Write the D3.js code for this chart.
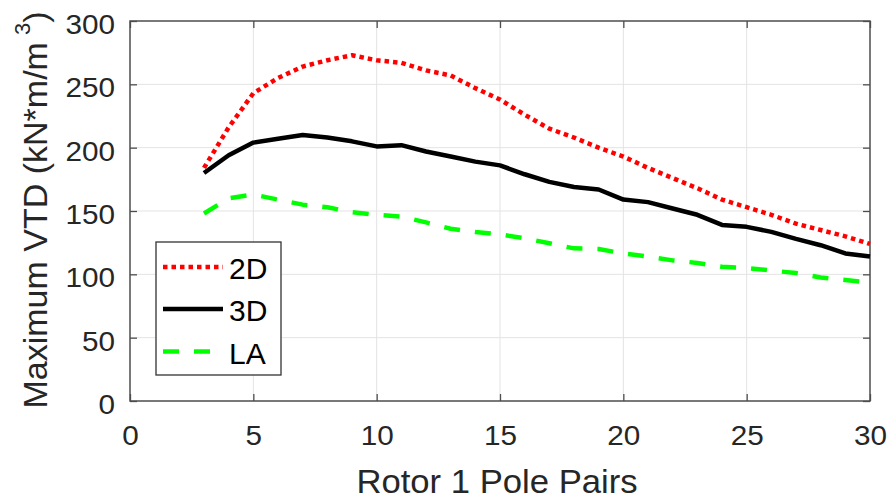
<!DOCTYPE html>
<html>
<head>
<meta charset="utf-8">
<script src="https://cdn.jsdelivr.net/npm/d3@7"></script>
<style>
  html, body { margin: 0; padding: 0; background: #fff; }
  svg { display: block; font-family: "Liberation Sans", Arial, Helvetica, sans-serif; }
</style>
</head>
<body>
<svg id="chart" width="891" height="501"></svg>
<script>
// Rotor 1 pole pairs (x) and maximum VTD in kN*m/m^3 for each model
const polePairs = [3, 4, 5, 6, 7, 8, 9, 10, 11, 12, 13, 14, 15, 16, 17, 18, 19, 20, 21, 22, 23, 24, 25, 26, 27, 28, 29, 30];
const vtd2D = [184, 216, 243, 255, 264, 269, 273, 269, 267, 261, 257, 247, 238, 226, 215, 208, 200, 193, 184, 176, 168, 159, 153, 147, 140, 135, 130, 124];
const vtd3D = [180, 194, 204, 207, 210, 208, 205, 201, 202, 197, 193, 189, 186, 179, 173, 169, 167, 159, 157, 152, 147, 139, 137.5, 133.5, 128, 123, 116.5, 114];
const vtdLA = [148, 160, 163, 159, 155, 153, 149, 147, 145.5, 141, 136, 133.5, 131.5, 128.5, 124.5, 120.5, 120, 116.5, 114, 111, 109, 106, 105, 103, 101, 97.5, 95.5, 93.5];

const xTicks = [0, 5, 10, 15, 20, 25, 30];
const yTicks = [0, 50, 100, 150, 200, 250, 300];
const seriesNames = ["2D", "3D", "LA"];

const svg = d3.select("#chart");
const plotLeft = 130, plotRight = 870, plotTop = 21, plotBottom = 401;

const x = d3.scaleLinear().domain([0, 30]).range([plotLeft, plotRight]);
const y = d3.scaleLinear().domain([0, 300]).range([plotBottom, plotTop]);

const axisColor = "#4d4d4d";
const textColor = "#262626";

// grid
const grid = svg.append("g");
grid.selectAll("line.gx").data(xTicks.slice(1, -1)).join("line")
  .attr("x1", d => x(d)).attr("x2", d => x(d))
  .attr("y1", plotTop).attr("y2", plotBottom)
  .attr("stroke", "#e3e3e3").attr("stroke-width", 1);
grid.selectAll("line.gy").data(yTicks.slice(1, -1)).join("line")
  .attr("x1", plotLeft).attr("x2", plotRight)
  .attr("y1", d => y(d)).attr("y2", d => y(d))
  .attr("stroke", "#e3e3e3").attr("stroke-width", 1);

// axes with inward ticks on all four sides
function styleAxis(g) {
  g.select(".domain").remove();
  g.selectAll(".tick line").attr("stroke", axisColor).attr("stroke-width", 1.3);
}
const gx = svg.append("g").attr("transform", `translate(0,${plotBottom})`)
  .call(d3.axisBottom(x).tickValues(xTicks).tickSize(-7).tickFormat(d3.format("d")));
styleAxis(gx);
gx.selectAll(".tick text")
  .attr("y", 44).attr("dy", 0)
  .attr("transform", "scale(1.1,1)")
  .attr("fill", textColor).attr("font-size", 27)
  .attr("font-family", "Liberation Sans, Arial, sans-serif");

const gxTop = svg.append("g").attr("transform", `translate(0,${plotTop})`)
  .call(d3.axisTop(x).tickValues(xTicks).tickSize(-7).tickFormat(""));
styleAxis(gxTop);

const gy = svg.append("g").attr("transform", `translate(${plotLeft},0)`)
  .call(d3.axisLeft(y).tickValues(yTicks).tickSize(-7).tickFormat(d3.format("d")));
styleAxis(gy);
gy.selectAll(".tick text")
  .attr("x", -13.6).attr("y", 12.5).attr("dy", 0)
  .attr("transform", "scale(1.1,1)")
  .attr("text-anchor", "end")
  .attr("fill", textColor).attr("font-size", 27)
  .attr("font-family", "Liberation Sans, Arial, sans-serif");

const gyRight = svg.append("g").attr("transform", `translate(${plotRight},0)`)
  .call(d3.axisRight(y).tickValues(yTicks).tickSize(-7).tickFormat(""));
styleAxis(gyRight);

// axes box
svg.append("rect")
  .attr("x", plotLeft).attr("y", plotTop)
  .attr("width", plotRight - plotLeft).attr("height", plotBottom - plotTop)
  .attr("fill", "none").attr("stroke", axisColor).attr("stroke-width", 1.5);

// series
const styles = {
  "2D": { color: "#ff0000", dash: "4.5,4", width: 4.5, values: vtd2D },
  "3D": { color: "#000000", dash: null, width: 4.5, values: vtd3D },
  "LA": { color: "#00ff00", dash: "16,15", width: 4.5, values: vtdLA }
};

const line = d3.line().x(d => x(d[0])).y(d => y(d[1]));
const drawOrder = ["LA", "3D", "2D"];
drawOrder.forEach(name => {
  const s = styles[name];
  svg.append("path")
    .datum(polePairs.map((p, i) => [p, s.values[i]]))
    .attr("d", line)
    .attr("fill", "none")
    .attr("stroke", s.color)
    .attr("stroke-width", s.width)
    .attr("stroke-linejoin", "round")
    .attr("stroke-dasharray", s.dash);
});

// axis titles
svg.append("text")
  .attr("transform", "translate(497,493) scale(1.05,1)")
  .attr("text-anchor", "middle")
  .attr("fill", textColor).attr("font-size", 33)
  .text("Rotor 1 Pole Pairs");

const yl = svg.append("text")
  .attr("transform", "translate(47,210) rotate(-90)")
  .attr("text-anchor", "middle")
  .attr("fill", textColor).attr("font-size", 34);
yl.append("tspan").text("Maximum VTD (kN*m/m");
yl.append("tspan").attr("dx", 7).attr("dy", -17).attr("font-size", 22).text("3");
yl.append("tspan").attr("dy", 17).text(")");

// legend
const legend = svg.append("g");
legend.append("rect")
  .attr("x", 156).attr("y", 242).attr("width", 125).attr("height", 133)
  .attr("fill", "#fff").attr("stroke", "#333").attr("stroke-width", 1.3);
const rowY = [267, 309, 351.5];
seriesNames.forEach((name, i) => {
  const s = styles[name];
  legend.append("line")
    .attr("x1", 163).attr("x2", 223)
    .attr("y1", rowY[i]).attr("y2", rowY[i])
    .attr("stroke", s.color).attr("stroke-width", s.width)
    .attr("stroke-dasharray", s.dash);
  legend.append("text")
    .attr("x", 229).attr("y", rowY[i] + 12)
    .attr("fill", "#000").attr("font-size", 30)
    .text(name);
});
</script>
</body>
</html>
